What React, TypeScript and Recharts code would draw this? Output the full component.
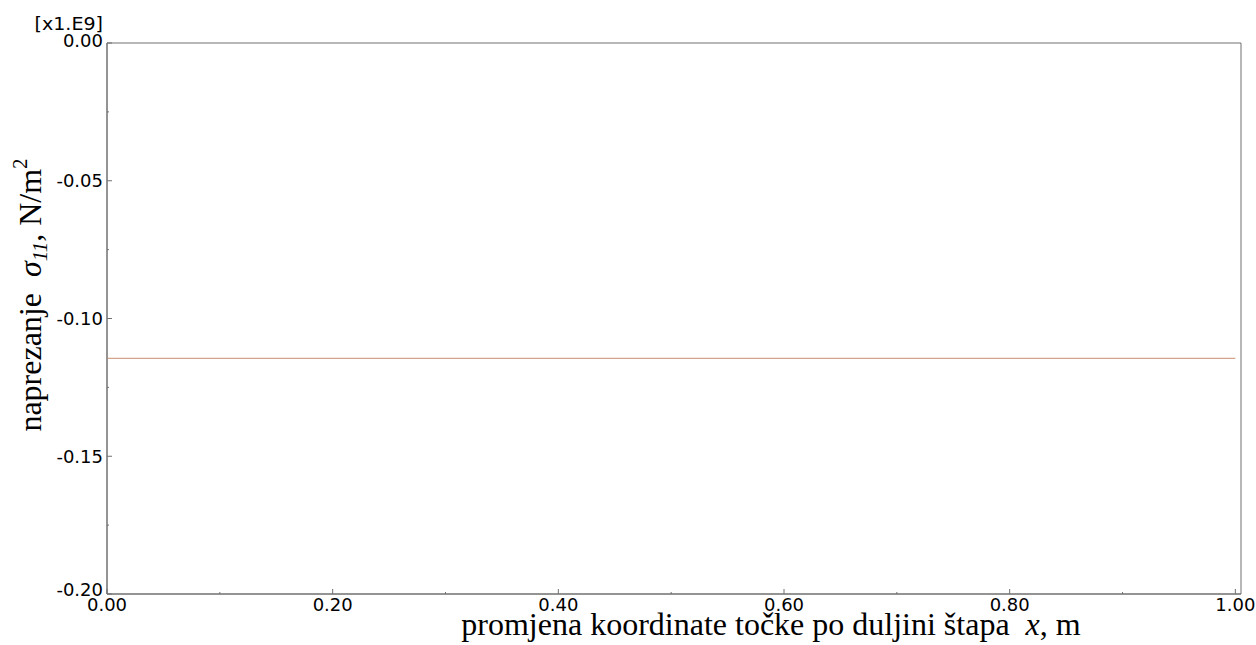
import { LineChart, Line, XAxis, YAxis, ReferenceArea, Label } from 'recharts'

// node positions along the bar (m) and axial stress sigma11 (x1e9 N/m^2)
const positions = [0, 0.1, 0.2, 0.3, 0.4, 0.5, 0.6, 0.7, 0.8, 0.9, 1.0]
const stress = [-0.1145, -0.1145, -0.1145, -0.1145, -0.1145, -0.1145, -0.1145, -0.1145, -0.1145, -0.1145, -0.1145]

const xTicks = [0, 0.1, 0.2, 0.3, 0.4, 0.5, 0.6, 0.7, 0.8, 0.9, 1.0]
const xLabels = ['0.00', '', '0.20', '', '0.40', '', '0.60', '', '0.80', '', '1.00']
const yTicks = [0, -0.025, -0.05, -0.075, -0.1, -0.125, -0.15, -0.175, -0.2]
const yLabels = ['0.00', '', '-0.05', '', '-0.10', '', '-0.15', '', '-0.20']

const data = positions.map((x, i) => ({ x, s: stress[i] }))

const axisColor = '#707070'
const tickFont = '"DejaVu Sans", Verdana, sans-serif'
const titleFont = '"Liberation Serif", "Times New Roman", serif'

const XTick = (props: any) => {
  const { x, y, index } = props
  const label = xLabels[index]
  const len = label ? 5 : 2
  return (
    <g>
      <line x1={x} y1={y} x2={x} y2={y - len} stroke={axisColor} />
      {label && (
        <text x={x} y={y + 17} textAnchor="middle" fontFamily={tickFont} fontSize={18} fill="#000">
          {label}
        </text>
      )}
    </g>
  )
}

const YTick = (props: any) => {
  const { x, y, index } = props
  const label = yLabels[index]
  const len = label ? 5 : 2
  const dy = index === 0 ? 4 : index === yLabels.length - 1 ? 2 : 6.5
  return (
    <g>
      <line x1={x} y1={y} x2={x + len} y2={y} stroke={axisColor} />
      {label && (
        <text x={x - 4} y={y + dy} textAnchor="end" fontFamily={tickFont} fontSize={18} fill="#000">
          {label}
        </text>
      )}
    </g>
  )
}

const YTitle = () => (
  <text transform="translate(41, 295) rotate(-90)" textAnchor="middle" fontFamily={titleFont} fontSize={32} fill="#000">
    naprezanje{'\u00a0\u00a0'}
    <tspan fontStyle="italic">σ</tspan>
    <tspan fontStyle="italic" fontSize={21} dy={6}>11</tspan>
    <tspan dy={-6}>, N/m</tspan>
    <tspan fontSize={21} dy={-14}>2</tspan>
  </text>
)

const XTitle = () => (
  <text x={771} y={635} textAnchor="middle" fontFamily={titleFont} fontSize={32} fill="#000">
    promjena koordinate točke po duljini štapa{'\u00a0\u00a0'}
    <tspan fontStyle="italic">x</tspan>, m
  </text>
)

export default function App() {
  return (
    <div style={{ position: 'absolute', left: 0, top: 0, width: 1256, height: 645, background: '#fff' }}>
      <LineChart width={1256} height={645} data={data} margin={{ top: 43, right: 15, bottom: 21, left: 0 }}>
        <XAxis
          dataKey="x"
          type="number"
          domain={[0, 1.005]}
          ticks={xTicks}
          tickSize={0}
          tickMargin={0}
          tickLine={false}
          axisLine={{ stroke: axisColor }}
          tick={<XTick />}
          height={30}
          interval={0}
        />
        <YAxis
          type="number"
          domain={[-0.2, 0]}
          ticks={yTicks}
          tickSize={0}
          tickMargin={0}
          tickLine={false}
          axisLine={{ stroke: axisColor }}
          tick={<YTick />}
          width={107}
          interval={0}
        >
          <Label content={<YTitle />} />
        </YAxis>
        <ReferenceArea x1={0} x2={1.005} y1={-0.2} y2={0} fill="none" stroke={axisColor} strokeWidth={1} ifOverflow="visible" />
        <Line dataKey="s" stroke="#d2a58e" strokeWidth={1.2} dot={false} isAnimationActive={false} />
        <text transform="translate(103,30) scale(1.06,1)" textAnchor="end" fontFamily={tickFont} fontSize={18} fill="#000">[x1.E9]</text>
        <XTitle />
      </LineChart>
    </div>
  )
}
